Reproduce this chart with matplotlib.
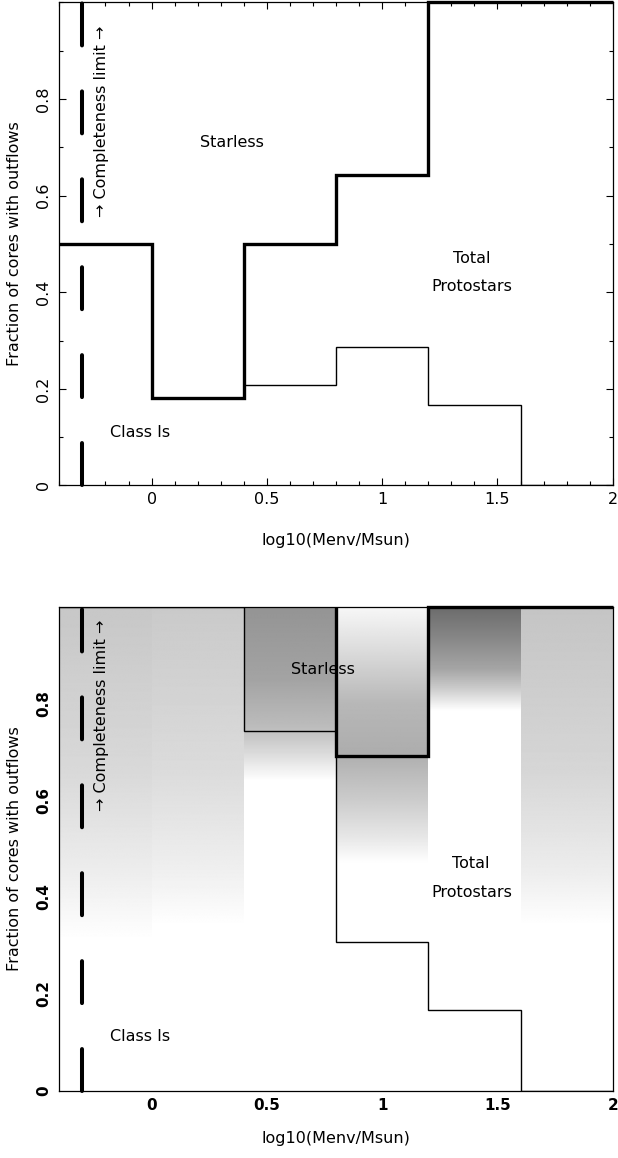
import numpy as np
import matplotlib
matplotlib.use("Agg")
import matplotlib.pyplot as plt
from matplotlib.ticker import FixedLocator, MultipleLocator

# ---------------- data ----------------
bin_edges = [-0.4, 0.0, 0.4, 0.8, 1.2, 1.6, 2.0]

# top panel
top_total = [0.5, 0.182, 0.5, 0.643, 1.0, 1.0]
top_proto = [0.5, 0.182, 0.207, 0.286, 0.167, 0.0]

# bottom panel
bot_total_edges = [0.8, 1.2, 1.6, 2.0]
bot_total = [0.692, 1.0, 1.0]
bot_proto = [1.0, 1.0, 0.744, 0.308, 0.167, 0.0]

# grey shading stops per bin (fraction level -> grey level, 1 = white)
shade_levels = [
    [1.0, 0.66, 0.45, 0.31],
    [1.0, 0.66, 0.45, 0.34],
    [1.0, 0.85, 0.75, 0.70, 0.64],
    [1.0, 0.90, 0.80, 0.70, 0.60, 0.52, 0.47],
    [1.0, 0.94, 0.87, 0.83, 0.785],
    [1.0, 0.66, 0.45, 0.34],
]
shade_greys = [
    [0.78, 0.85, 0.93, 1.0],
    [0.79, 0.86, 0.94, 1.0],
    [0.58, 0.64, 0.74, 0.85, 1.0],
    [0.97, 0.85, 0.72, 0.68, 0.80, 0.91, 1.0],
    [0.42, 0.52, 0.65, 0.80, 1.0],
    [0.77, 0.84, 0.93, 1.0],
]

completeness_x = -0.3

xtick_vals = [0, 0.5, 1, 1.5, 2]
xtick_labels = ["0", "0.5", "1", "1.5", "2"]
ytick_vals = [0, 0.2, 0.4, 0.6, 0.8]
ytick_labels = ["0", "0.2", "0.4", "0.6", "0.8"]

# text annotations: (label, x, y)
top_texts = [("Starless", 0.35, 0.709), ("Total", 1.39, 0.47),
             ("Protostars", 1.39, 0.411), ("Class Is", -0.05, 0.109)]
bot_texts = [("Starless", 0.745, 0.869), ("Total", 1.385, 0.470),
             ("Protostars", 1.39, 0.409), ("Class Is", -0.05, 0.111)]
compl_text = "\u2192 Completeness limit \u2192"

# ---------------- style ----------------
plt.rcParams["font.family"] = ["DejaVu Sans"]
FS = 11.5
THICK = 2.4
THIN = 1.0

fig = plt.figure(figsize=(6.18, 11.58), dpi=100)
ax1 = fig.add_axes([0.096, 0.5808, 0.8955, 0.4171])
ax2 = fig.add_axes([0.096, 0.0581, 0.8955, 0.4181])

dash_lw = 2.9
dash_style = (0, (30.2 / dash_lw, 33.1 / dash_lw))


def common(ax, compl_y):
    ax.set_xlim(-0.4, 2.0)
    ax.set_ylim(0, 1.0)
    for s in ax.spines.values():
        s.set_linewidth(0.9)
    ax.plot([completeness_x, completeness_x], [0, 1], color="black",
            lw=dash_lw, ls=dash_style, solid_capstyle="round",
            dash_capstyle="round", zorder=5, clip_on=False)
    ax.text(-0.219, compl_y, compl_text, rotation=90, ha="center",
            va="center", fontsize=FS, zorder=6)


# ---------------- top panel ----------------
ax1.stairs(top_proto, bin_edges, baseline=None, color="black", lw=THIN,
           zorder=3)
ax1.stairs(top_total, bin_edges, baseline=None, color="black", lw=THICK,
           zorder=4, clip_on=False)
common(ax1, 0.754)
for t, x, y in top_texts:
    ax1.text(x, y, t, ha="center", va="center", fontsize=FS)

ax1.xaxis.set_major_locator(FixedLocator(xtick_vals))
ax1.set_xticklabels(xtick_labels)
ax1.xaxis.set_minor_locator(MultipleLocator(0.1))
ax1.yaxis.set_major_locator(FixedLocator(ytick_vals))
ax1.set_yticklabels(ytick_labels, rotation=90, va="center")
ax1.yaxis.set_minor_locator(MultipleLocator(0.1))
ax1.tick_params(which="both", direction="in", top=True, right=True,
                width=0.8, labelsize=FS)
ax1.tick_params(which="major", length=5)
ax1.tick_params(which="minor", length=3)
ax1.tick_params(axis="x", pad=5.0)
ax1.tick_params(axis="y", pad=6.3)

# ---------------- bottom panel ----------------
yy = np.linspace(0, 1, 600)
for i in range(len(bin_edges) - 1):
    lv = np.array(shade_levels[i])[::-1]
    gv = np.array(shade_greys[i])[::-1]
    g = np.interp(yy, lv, gv)
    ax2.imshow(g[:, None], extent=[bin_edges[i], bin_edges[i + 1], 0, 1],
               origin="lower", cmap="gray", vmin=0, vmax=1, aspect="auto",
               interpolation="bilinear", zorder=0)
ax2.stairs(bot_proto, bin_edges, baseline=None, color="black", lw=THIN,
           zorder=3)
ax2.stairs(bot_total, bot_total_edges, baseline=1.0, color="black",
           lw=THICK, zorder=4, clip_on=False)
common(ax2, 0.775)
for t, x, y in bot_texts:
    ax2.text(x, y, t, ha="center", va="center", fontsize=FS, zorder=6)

ax2.xaxis.set_major_locator(FixedLocator(xtick_vals))
ax2.set_xticklabels(xtick_labels, fontweight="bold")
ax2.yaxis.set_major_locator(FixedLocator(ytick_vals))
ax2.set_yticklabels(ytick_labels, rotation=90, va="center",
                    fontweight="bold")
ax2.tick_params(which="both", length=0, labelsize=FS - 0.5)
ax2.tick_params(axis="x", pad=5.3)
ax2.tick_params(axis="y", pad=6.0)
ax2.set_xlim(-0.4, 2.0)
ax2.set_ylim(0, 1.0)

# axis labels
for yc_top, yc_xl in [(243.9, 540), (848.6, 1138)]:
    fig.text(14.5 / 618, 1 - yc_top / 1158, "Fraction of cores with outflows",
             rotation=90, ha="center", va="center", fontsize=FS)
    fig.text(336 / 618, 1 - yc_xl / 1158, "log10(Menv/Msun)",
             ha="center", va="center", fontsize=FS)

fig.savefig("out.png", dpi=100)
